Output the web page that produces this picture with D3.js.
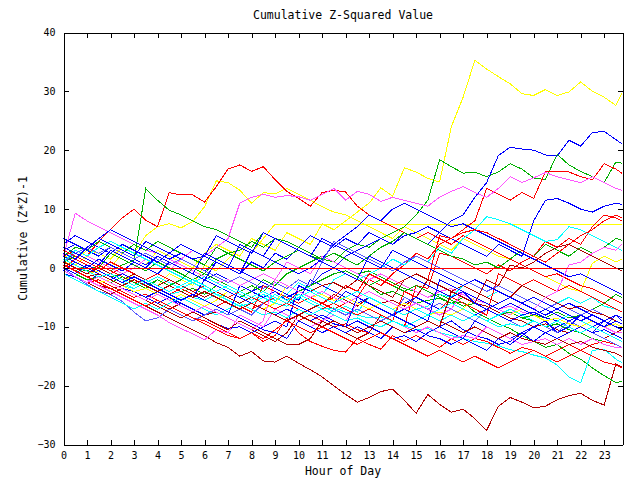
<!DOCTYPE html>
<html><head><meta charset="utf-8">
<script src="https://cdn.jsdelivr.net/npm/d3@7"></script>
<style>body{margin:0;background:#fff} svg{display:block}</style>
</head><body><svg id="c" width="640" height="480"></svg>
<script>
const TITLE = "Cumulative Z-Squared Value";
const X_LABEL = "Hour of Day";
const Y_LABEL = "Cumulative (Z*Z)-1";
const HOURS = [0,0.5,1,1.5,2,2.5,3,3.5,4,4.5,5,5.5,6,6.5,7,7.5,8,8.5,9,9.5,10,10.5,11,11.5,12,12.5,13,13.5,14,14.5,15,15.5,16,16.5,17,17.5,18,18.5,19,19.5,20,20.5,21,21.5,22,22.5,23,23.5,23.75];
const X_TICKS = [0,1,2,3,4,5,6,7,8,9,10,11,12,13,14,15,16,17,18,19,20,21,22,23];
const Y_TICKS = [-30,-20,-10,0,10,20,30,40];

const line01 = [1,0.5,2,1,0,2.5,1.5,0.5,3,2, 1,0,2.5,4,3,2,5,4,3,6, 5,4,7.5,6.5,8,9.5,11,13.6,12.2,17, 16.3,15.2,14.6,24,29,35.3,33.8,32.5,31.3,29.6, 29.3,30.3,29.3,29.9,31.6,30,29,27.6, 29.7];
const line02 = [2,1.5,3,2.5,1.5,3.5,2.5,5.5,7,7.5, 6.8,7.9,10.4,14.8,14.5,13.2,11,12.8,12.6,13.5, 12.5,11.5,10.4,9.5,9,8,7,6,5,7, 6,5,4,3,5,4,3,2,1.5,0.5, -0.5,-1.5,-2.5,-3.5,-4,0.8,2,1, 1.5];
const line03 = [1,0,-1,-0.5,-1.5,-2.5,-1,-2,-3,-1, -2,-3,0.5,-0.5,1.5,3.5,2.5,5,7.45,7.45, 7.45,7.45,7.45,7.45,7.45,7.45,7.45,7.45,7.45,7.45, 7.45,7.45,7.45,7.45,7.45,7.45,7.45,7.45,7.45,7.45, 7.45,7.45,7.45,7.45,7.45,7.45,7.45,7.45, 7.45];
const line04 = [2,3,2,4.5,6.5,8.5,10,8.1,7,12.8, 12.4,12.4,11.2,13.8,16.8,17.5,16.4,17.2,15,13, 11.8,10.5,12.8,13.2,12.9,10.5,9,8,7,6, 5,6,5,4,5.5,4.5,3.5,2.5,1.5,0.5, -0.5,-1.5,-1,-2,-3,-3.5,-4.5,-5.5, -6];
const line05 = [1,0,-0.5,0.5,-0.5,0.5,1.3,13.5,11.5,9.8, 9,8,7,6.5,5.5,4.5,3.5,6,5,4, 3,2,1.5,1,0,-1,-0.5,-1.5,-2.5,-3.5, -4,-5,-4.5,-5.5,-6.5,-6,-7,-8,-7.5,-8.5, -9,-10,-9.5,-10.5,-11,-12,-12.5,-13, -13.5];
const line06 = [0.5,-0.5,0.5,-0.5,-1.5,-1,-2,-3,-2,-3, -4,-3.5,-4.5,-3,-4,-5,-4,-2,-3,-1, 0,1,2,1,3,4,3.5,5,6,7, 9,11.5,18.4,17.2,16.1,16.3,15.5,16.3,17.7,16.8, 15.3,15,19.3,17.5,16.4,15.5,14.5,18, 17.8];
const line07 = [3,4,3,2,3.5,2.5,1.5,0.5,2,1, 0,-1,-2,-1,-2,-3,-4,-3,-4,-5, -4,-3,-1,0,2,3,4,5,4,5.5, 6,7,6,8,9,12,14.5,19.1,20.5,20.2, 20,19.2,19,21.7,20.7,23,23.2,21.8, 21.1];
const line08 = [0,1.5,0.5,-0.5,-1.5,-2.5,-1.5,-2.5,-3.5,-4.5, -3.5,-4.5,-5.5,-6.5,-5.5,-6.5,-7.5,-3,-4,-5, -6,-5,-6,-7,-6,-5,-2,-3,-1,0.5, 2.5,1.5,4,5,6.5,8,13.5,12.5,11.5,12.8, 11.8,16.3,16.3,16.3,15.5,15,17.7,16.8, 16.1];
const line09 = [1,3,2,1,0,-1,0,1.5,0.5,-0.5, 1.5,3,2,3.5,5,11,12,12.5,12,12.3, 12.1,11.5,12.5,13.5,11.5,13,12.5,11.3,12,11.5, 11,10.5,12,13,13.8,12.8,12,13.5,15.5,14.5, 15.3,16.2,15.5,15,14.5,15.5,14.5,13.5, 13.2];
const line10 = [0,-1,-2,-3,-3.5,-4.5,-5.5,-6.5,-7.5,-8.5, -9.5,-10.5,-11.5,-12.7,-13.5,-15,-14.2,-15.8,-16,-15, -16.2,-17.3,-18.5,-20,-21.5,-22.8,-22,-21,-20.6,-22.5, -24.7,-21.5,-23.2,-24.5,-24,-25.6,-27.6,-23.5,-22,-22.8, -23.8,-23.5,-22.4,-21.7,-21.3,-22.5,-23.3,-16.3, -16.8];
const line11 = [1,2,1,0,2.5,1.5,0.5,-0.5,1,0, -1,-2,-1,-2,-3,-4,-3,-4,-2,-3, -4,-3,-2,-1,-0.5,-1.5,-3,-4.5,-4,-5, -6,-5.5,-5.2,-6,-5.8,-7.5,-8.5,-9.5,-10.3,-11.5, -12.5,-13.5,-13,-14.5,-15.5,-17,-18.3,-19.5, -19.3];
const line12 = [0.5,-0.5,-1.5,-1,-2,-3,-3.5,-2.5,-3.5,-4.5, -4,-5,-5.5,-4.5,-5.5,-6.5,-6,-5,-6,-6.5, -5,-6,-7,-6.8,-7.5,-8,-8.5,-8.3,-9,-9.8, -10.5,-10.3,-11,-11.5,-12,-12.5,-12.8,-13.2,-13.9,-14.2, -14.8,-15.3,-16.5,-18.5,-19.5,-14,-13.8,-15.5, -16.1];
const line13 = [-0.5,-1.5,-2.5,-2,-3,-4,-5,-4.5,-5.5,-6.5, -7.5,-8.5,-9,-10,-11,-12,-11,-12.5,-11.5,-8.5, -11,-12.5,-13.3,-14,-14.3,-12,-13,-13.8,-11.5,-12.5, -11.5,-12.5,-13.5,-12,-13,-12,-12.5,-13.5,-14.5,-13.5, -14,-15,-14,-13,-14,-13,-12.5,-13, -13.5];
const line14 = [4,5.5,4.5,3.5,2.5,4,3,2,1,2.5, 1.5,0.5,-0.5,1,0,-1,1,0,2.5,1.5, 3.5,5.5,4.5,3.5,5,4,6,5,4,6, 5,4,6,5,4,3,2,4,3,2, 8,11.5,11.8,11,10,9.5,10.5,11, 10.8];
const line15 = [1,0,-1,0.5,-0.5,-1.5,-2.5,-2,-3,-4, -3,-4,-5,-4,-5,-6,-7,-6,-7,-8, -9,-8,-9,-10,-9.5,-10.5,-11,-8,-9,-10, -3,-3.5,2.5,2,1,0,-1,0.5,-0.5,1, 2,4.5,3.5,5,4,7,9,8.5, 8];
const line16 = [0.5,-0.5,-1.5,-2.5,-3.5,-3,-4,-5,-6,-7, -6,-7,-8,-7.5,-8.5,-9.5,-10.5,-11.5,-12.5,-11, -8,-7,-6,-4.5,-5.5,-6.5,-5,-6,-5.5,-6.5, -5,-2,-3,-4,-5,-6,-6.5,-7.5,-8.5,-9, -10,-9.5,-10.5,-11,-10,-11,-12,-11, -10.5];
const line17 = [1.5,0.5,-0.5,-1.5,-2.5,-3.5,-4,-5,-6,-5, -6.5,-7.5,-8.5,-9.5,-10.3,-10,-11,-10,-9,-10, -3,-4,-5,-6,-4,-5,-6,-7,-8,-7, -8,-9,-10,-9,-10.5,-11.5,-12,-13,-12.5,-11, -10,-9,-11,-10,-8,-9,-10,-8, -9];
const line18 = [-1,-1.5,-2.5,-1,-2,-3,-4,-5,-4,-5, -6,-7,-8,-7,-8,-3,-4,-5,-4,-5.5, -6.5,-7.5,-8.5,-9.5,-10,-9,-10,-11,-12,-11.5, -12.5,-11,-10,-11,-12,-9,-10,-11,-12,-11, -12.5,-11,-10,-9,-10,-11,-10.5,-11.5, -12];
const line19 = [0,-1.5,-2.8,-4,-4.5,-5.7,-7.5,-9,-8.5,-7, -8,-9,-8,-7,-8,-7,-8,-6,-7,-8, -9,-10,-9,-7,-8,-7,-8,-9,-8,-5, -6,-7,-6,-7,-8,-9,-7,-8,-9,-10, -9,-10,-11,-9,-10,-11,-12,-13, -13.5];
const line20 = [0,-1,-2,-3,-4,-5,-6,-7,-8,-9.3, -10.3,-11.2,-12.2,-10.5,-11,-8,-9,-10,-7,-8, -9,-10,-9,-8,-9,-6,-7,-8,-9,-10, -11,-10,-11,-12,-11.5,-12,-10,-11,-12,-13, -12.5,-12,-13,-12,-13,-12,-13,-13.5, -13.6];
const line21 = [2,9.3,8,7,6,5,4,3,2.5,1.5, 0.5,-0.5,-1.5,-2.5,-2,-3,-2,-1,-2,1, 0,-1,2,1,0,-1,-2,-1,-2,-3, -4,-5,-4,-3.5,-4.5,-5.5,-6,-7,-6.5,-7.5, -8,-9,-8.5,-9.5,-10,-9,-10,-11, -11];
const line22 = [1,3,2,3.5,4.5,3.5,2.5,1.5,0.5,-0.5, -1.5,-2.5,-3.5,-4.5,-5,-4,-5,-6,-4.5,-5.5, -4.5,-5.5,-6.5,-7.5,-6.5,-7.5,-5,-6,-7,-6, -7,-6.5,-4.5,-5,-3,-4,-5,-4,-5,-3, -4,-5,-6,-5,-6,-5,-6.5,-7, -7.5];
const line23 = [-0.5,-1.5,0.5,-0.5,-1.5,-2.5,-3.5,-2.5,-1.5,-2.5, -3.5,-2.5,-1.5,-2.5,-3.5,-4.5,-5.5,-4.5,-5.5,-4.5, -2.5,-3.5,-4.5,-2,-1,-2,-1,0,1.5,0.5, 2,1,3.5,2.5,5,6.5,8.7,8.2,7.5,6.5, 5.5,4.5,4.8,7,6.5,5.5,4.5,3.5, 3];
const line24 = [2,3.5,3,4.5,3.5,2.5,4,3,4.5,3.5, 2.5,1.5,0.5,3.5,2.5,1.5,0.5,-0.5,1,2, 3,2,1,0,-1,-2,-3,-2,-3,-4, -3,-4,-5,-6,-5,-6,-7,-8,-7.5,-8.5, -8,-8.5,-7.5,-8.5,-8,-7,-6,-4.5, -5];
const line25 = [0,-1,-2,-1.5,-2.5,-1.5,-2.5,-3.5,-2,-3, -2,0,-1,1.5,2.5,3,4.5,3.5,5,4.5, 3.5,2.5,1.5,2.5,1.5,0.5,2,3.5,4.5,6, 5,4,3,2,1.5,0.5,1,0,1.5,3, 2,4,3,2,3.5,2.5,3.5,5, 4.7];
const line26 = [5,4,3,5,6.5,5.5,4.5,3.5,2.5,1.5, 2.5,1.5,2,1,0,4,3,2,1,0, -1,0,1.5,4,5.5,7,9,8,10,11, 10,9,8,7,7.5,6.5,5.5,4.5,3.5,2.5, 1.5,0.5,-0.5,-1.5,-1,-2,-3,-4, -4.5];
const line27 = [-0.5,-1.5,-2.5,-3.5,-4.5,-3.5,-4.5,-5.5,-6.5,-7.5, -8.5,-7.5,-8.5,-9.5,-10.5,-9,-10,-11,-12,-13, -13,-12,-9,-10,-11,-12,-11,-8,-9,-10, -9,-8,-9,-10,-11,-10,-11,-12,-11,-12, -12.5,-13,-12,-13,-12.5,-13.5,-14,-14.5, -15];
const line28 = [3,2,1,0,-1,0,-1,-2,-1,-2, -3,-4,-3,-4,-5,-6,-5,-6,-7,-6, -7,-8,-7,-6,-7,-8,-7,-8,-9,-4, -5,-6,-7,-5,-6,-7,-8,-1,-2,-3, -2,-3,-4,-3,-4,-5,-6,-7, -7.5];
const line29 = [2,1,0,1.5,0.5,-0.5,1,0,2,1, 0,-1,2.5,1.5,0.5,-0.5,-1.5,-2.5,-3.5,-4.5, -5.5,-2,-3,-4,-5,-6,-5,-6,-7,-6, -5,-6,-7,-6,-7,-8,-7,-8,-9,-8, -7.5,-8.5,-9,-8,-9,-10,-9,-8, -8.5];
const line30 = [0.5,-0.5,-1.5,-2.5,-2,-3,-4,-3.5,-4.5,-5.5, -4.5,-5.5,-6.5,-5.5,-4,-5,-6,-7,-6,-3, -4,-5,-4.5,-5.5,-5,-6,-7,-6,-7,-6, -7,-8,-7.5,-8,-7,-5,-6,-7,-8,-7, -8,-9,-8.5,-9.5,-10,-9,-10,-9.5, -10];
const line31 = [1,2.5,3.5,2.5,3.5,2.5,1.5,2.5,1.5,0.5, 1.5,0.5,-0.5,-1.5,-2.5,-1.5,-2.5,-3.5,-2.5,-3.5, -2,-3,1,4.5,3.5,2.5,1.5,0.5,-0.5,1, 2,1,0,-1,-2,-3,-4,-3,-4,-5, -6,-7,-6,-7,-8,-7,-8,-9, -9.5];
const line32 = [-1,-2,-3,-4,-5,-6,-7,-6,-7,-6, -5,-6,-7,-8,-7,-6,-7,-8,-7.5,-8.5, -7,-8,-7,-8,-9,-8.5,-9.5,-10,-9,-10, -9,-8,-9,-8,-9,-8,-9,-10,-9.5,-10, -9,-10,-9,-8,-9,-10,-11,-12, -12.5];
const line33 = [0,-1,0.5,-0.5,1,0,-1,-2,-1,-2, -3,-2,-3,-4,-5,-4,-5,-6,-5,-6, -4,-5,-6,-5,-3,-4,-1,-2,-3,-2, -1,-2,5.5,5,6,6.5,6,5,4,3, 2,1,2.5,4,5.5,6.5,8,9, 8.5];
const line34 = [0,-1,0.5,-0.5,-1.5,-2.5,-1.5,-2.5,-3.5,-4.5, -5.5,-4.5,-5.5,-6.5,-7.5,-8.5,-9.5,-10.5,-11,-12, -9,-10,-11,-10,-11,-10,-11,-12,-10,-11, -10.5,-11.5,-12,-13,-12,-13,-14,-12,-13,-11.5, -10,-11,-12,-11,-10,-11,-9,-8, -8.5];
const line35 = [1,0,-1,0,-1,-2,-1,-2,-3,-2, -3,-4,-5,-4,-5,-6,-5,-4,-5,-6, -5,-4,-3,-2.5,-3.5,-2,-3,-4,-5,-2, -1,-2,-3,-4,-3,-4,-5,-6,-5,-3, -4,-5,-6,-7,-6.5,-7.5,-8,-9, -9.5];
const line36 = [-0.5,-1.5,-2.5,-1.5,-2.5,-3.5,-4.5,-5.5,-4.5,-5.5, -6.5,-7.5,-6.5,-7.5,-8.5,-9.5,-10.5,-9,-2,-3, -4,-5,-4,-5,-6,-5,-4,-5,-6,-7, -6,-7,-8,-7,-4,-5,-6,-7,-8,-6, -7,-5,-4,0.5,1,2.5,3.5,3, 4];
const line37 = [2.5,1.5,3.5,5,4,3,2,4.5,3.5,2.5, 4,3,2,5.5,4.5,3.5,2.5,6,5,4, 3,2,5,4,3,2,1,0,3,2, 1,0,-1,-2,-3,-2,-3,-4,-5,-6, -5,-6,-7,-8,-9,-8,-9,-10, -10.5];
const line38 = [-0.5,1,0,-1,-2,-1,-2,-3,-4,-3, -4,-5,-2,-3,-4,-5,-6,-7,-8,-7, -8,-9,-8,-9,-10,-5,-6,-7,-8,-9, -10,-9,-2,-3,-4,-5,-6,-7,-6,-7, -8,-7,-8,-9,-8,-9,-10,-9, -9.5];
const line39 = [0.5,-0.5,-1.5,-1,-2,-3,-2,-3,-4,-3, -4,-5,-4,-5,-6,-7,-6,-7,-8,-9, -8,-9,-10,-9,-10,-11,-10,-9,-10,-11, -10,-9,-10,-4,-5,-6,-2,-3,0.5,0, 1,2.5,3.5,4,3,2,1,0, -0.5];
const line40 = [3.5,2.5,1.5,0.5,3,2,1,0,-1,1, 0,-1,-2,1,0,-1,3,2,5,4, 3,2,1,0,-1,-2,2,1,0,-1, -2,-3,-4,-5,-4,-6,-7,-6,-5,-6, -7,-8,-7,-6,-7,-8,-9,-10, -10.3];
const line41 = [0.5,-0.5,-1.5,-2.5,-3.5,-4.5,-5.5,-6.5,-5.5,-6.5, -7.5,-8.5,-9.5,-10.5,-11.5,-12,-11,-12,-10.5,-9, -10,-11,-10,-11,-12,-13,-12,-11,-12,-13, -14,-15,-14,-15,-16,-15,-16,-17,-16,-15, -14,-15,-16,-15,-14,-15,-16,-16.5, -17];
const line42 = [1.5,0.5,-0.5,-1.5,-1,-2,-3,-2,-3,-4, -3,-2,-3,-4,-3,-4,-5,-4,-5,-6, -5,-4,-5,-6,-5,-4,-5,-6,-7,-8, -7,-8,-7,-6,-7,-8,-9,-8,-7,-8, -9,-10,-9,-10,-11,-10,-11,-12, -12.5];

const SERIES = [line01,line02,line03,line04,line05,line06,line07,line08,line09,line10,
  line11,line12,line13,line14,line15,line16,line17,line18,line19,line20,
  line21,line22,line23,line24,line25,line26,line27,line28,line29,line30,
  line31,line32,line33,line34,line35,line36,line37,line38,line39,line40,
  line41,line42];

const YELLOW="#ffff00", RED="#ff0000", GREEN="#00b000", BLUE="#0000ff", MAGENTA="#ff55ff", CYAN="#00ffff", DARKRED="#b00000", MEDBLUE="#5a5aff";
const COLORS = [YELLOW,YELLOW,YELLOW,RED,GREEN,GREEN,BLUE,RED,MAGENTA,DARKRED,
  GREEN,CYAN,RED,BLUE,RED,DARKRED,BLUE,BLUE,MEDBLUE,MAGENTA,
  MAGENTA,CYAN,CYAN,GREEN,GREEN,BLUE,DARKRED,RED,BLUE,YELLOW,
  MEDBLUE,CYAN,RED,BLUE,DARKRED,MAGENTA,BLUE,BLUE,DARKRED,BLUE,
  RED,CYAN];

const svg = d3.select('#c');
svg.append('rect').attr('width',640).attr('height',480).attr('fill','#fff');
const x = d3.scaleLinear().domain([0,23.78]).range([63.5,622.5]);
const y = d3.scaleLinear().domain([-30,40]).range([444.5,32.5]);
const FONT = "'DejaVu Sans Mono', monospace";

const lineGen = d3.line().defined((d,i)=>i<HOURS.length).x((d,i)=>x(HOURS[i])).y(d=>y(d));
svg.append('g').selectAll('path').data(SERIES).join('path')
  .attr('d', lineGen).attr('fill','none')
  .attr('stroke',(d,i)=>COLORS[i]).attr('stroke-width',1)
  .attr('shape-rendering','crispEdges');

svg.append('line').attr('x1',x(0)).attr('x2',x(23.78)).attr('y1',Math.round(y(0))+0.5).attr('y2',Math.round(y(0))+0.5)
  .attr('stroke',RED).attr('stroke-width',1).attr('shape-rendering','crispEdges');

function styleAxis(g){
  g.attr('font-family',FONT).attr('font-size',10);
  g.selectAll('path,line').attr('stroke','#000').attr('shape-rendering','crispEdges');
  g.selectAll('text').attr('fill','#000');
}
svg.append('g').attr('transform','translate(0,444.5)')
  .call(d3.axisBottom(x).tickValues(X_TICKS).tickSizeInner(-5).tickSizeOuter(0).tickPadding(7).tickFormat(d3.format('d')))
  .call(styleAxis);
svg.append('g').attr('transform','translate(0,32.5)')
  .call(d3.axisTop(x).tickValues(X_TICKS).tickSizeInner(-5).tickSizeOuter(0).tickFormat(''))
  .call(styleAxis);
svg.append('g').attr('transform','translate(63.5,0)')
  .call(d3.axisLeft(y).tickValues(Y_TICKS).tickSizeInner(-5).tickSizeOuter(0).tickPadding(8).tickFormat(d3.format('d')))
  .call(styleAxis);
svg.append('g').attr('transform','translate(622.5,0)')
  .call(d3.axisRight(y).tickValues(Y_TICKS).tickSizeInner(-5).tickSizeOuter(0).tickFormat(''))
  .call(styleAxis);

svg.append('text').attr('x',343).attr('y',19).attr('text-anchor','middle')
  .attr('font-family',FONT).attr('font-size',11.5).text(TITLE);
svg.append('text').attr('x',343).attr('y',475).attr('text-anchor','middle')
  .attr('font-family',FONT).attr('font-size',11.5).text(X_LABEL);
svg.append('text').attr('transform','translate(27,238.5) rotate(-90)').attr('text-anchor','middle')
  .attr('font-family',FONT).attr('font-size',11.5).text(Y_LABEL);
</script></body></html>
